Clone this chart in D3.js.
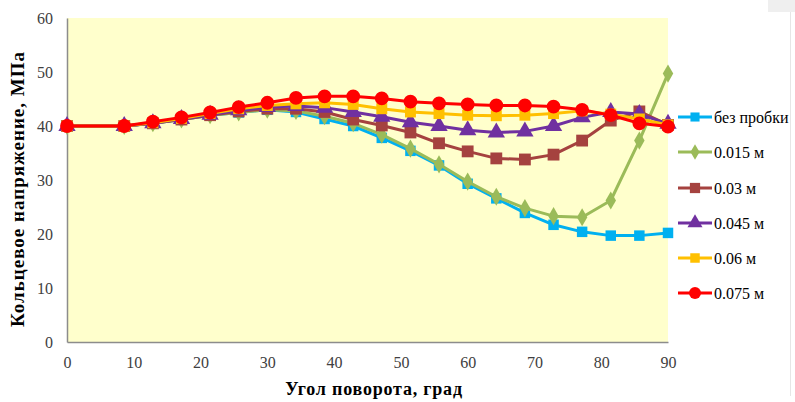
<!DOCTYPE html>
<html>
<head>
<meta charset="utf-8">
<script src="https://cdn.jsdelivr.net/npm/d3@7"></script>
<style>
  html, body { margin: 0; padding: 0; background: #ffffff; }
  svg { display: block; }
</style>
</head>
<body>
<svg id="chart" width="795" height="402"></svg>
<script>
// Rotation angle, degrees
const angles = [0, 8.57, 12.86, 17.14, 21.43, 25.71, 30, 34.29, 38.57, 42.86, 47.14,
                51.43, 55.71, 60, 64.29, 68.57, 72.86, 77.14, 81.43, 85.71, 90];

// Hoop stress, MPa, per plug length
const noPlug  = [40, 40, 40.5, 41.2, 42.0, 42.5, 43.0, 42.6, 41.3, 40.0, 37.8, 35.4, 32.7, 29.3, 26.6, 23.9, 21.7, 20.4, 19.7, 19.7, 20.2];
const plug015 = [40, 40, 40.5, 41.2, 42.0, 42.5, 43.0, 42.8, 41.8, 40.5, 38.4, 35.8, 32.9, 29.7, 26.9, 24.8, 23.3, 23.1, 26.2, 37.3, 49.7];
const plug03  = [40, 40, 40.5, 41.2, 42.0, 42.7, 43.2, 43.2, 42.6, 41.2, 40.1, 38.8, 36.8, 35.3, 34.0, 33.8, 34.7, 37.3, 41.0, 42.7, 40.2];
const plug045 = [40, 40, 40.5, 41.3, 42.1, 42.9, 43.5, 43.7, 43.4, 42.6, 41.7, 40.7, 40.0, 39.2, 38.8, 39.0, 40.0, 41.6, 42.6, 42.2, 40.4];
const plug06  = [40, 40, 40.6, 41.4, 42.3, 43.2, 43.8, 44.1, 44.3, 44.0, 43.2, 42.6, 42.3, 42.0, 41.9, 42.0, 42.3, 42.8, 42.2, 41.3, 40.2];
const plug075 = [40, 40, 40.8, 41.6, 42.5, 43.5, 44.3, 45.2, 45.5, 45.5, 45.1, 44.5, 44.2, 44.0, 43.8, 43.8, 43.6, 43.0, 42.0, 40.5, 39.9];

const seriesNames = ["без пробки", "0.015 м", "0.03 м", "0.045 м", "0.06 м", "0.075 м"];
const seriesValues = [noPlug, plug015, plug03, plug045, plug06, plug075];
const seriesColors = ["#00B0F0", "#9BBB59", "#A5423F", "#7030A0", "#FFC000", "#FF0000"];
const seriesMarkers = ["square", "diamond", "square", "triangle", "square", "circle"];
const markerSizes = [110, 95, 140, 130, 120, 150];

const xTicks = [0, 10, 20, 30, 40, 50, 60, 70, 80, 90];
const yTicks = [0, 10, 20, 30, 40, 50, 60];

const svg = d3.select("#chart");
const plot = { left: 67, right: 668, top: 18, bottom: 342 };

const x = d3.scaleLinear().domain([0, 90]).range([plot.left, plot.right]);
const y = d3.scaleLinear().domain([0, 60]).range([plot.bottom, plot.top]);

const fontFamily = '"Liberation Serif", "Times New Roman", serif';

// small grey tab and frame edge at the right
svg.append("rect").attr("x", 768).attr("y", 0).attr("width", 27).attr("height", 12).attr("fill", "#efefef");
svg.append("line").attr("x1", 790.5).attr("x2", 790.5).attr("y1", 12).attr("y2", 396)
  .attr("stroke", "#e6e6e6").attr("stroke-width", 1);

// plot area
svg.append("rect")
  .attr("x", plot.left).attr("y", plot.top)
  .attr("width", plot.right - plot.left).attr("height", plot.bottom - plot.top)
  .attr("fill", "#FFFFCC");

// axes
const xAxis = svg.append("g")
  .attr("transform", `translate(0,${plot.bottom})`)
  .call(d3.axisBottom(x).tickValues(xTicks).tickSize(0).tickPadding(15));
const yAxis = svg.append("g")
  .attr("transform", `translate(${plot.left},0)`)
  .call(d3.axisLeft(y).tickValues(yTicks).tickSize(0).tickPadding(14));

[xAxis, yAxis].forEach(a => {
  a.attr("font-family", null).attr("font-size", null);
  a.select(".domain").attr("stroke", "#8c8c8c").attr("stroke-width", 1.5);
  a.selectAll("text")
    .style("font-family", fontFamily).style("font-size", "16px")
    .attr("fill", "#404040");
});

// axis titles
svg.append("text")
  .attr("x", 374).attr("y", 395)
  .attr("text-anchor", "middle")
  .style("font-family", fontFamily).style("font-size", "18px").style("font-weight", "bold")
  .style("letter-spacing", "0.8px")
  .attr("fill", "#000")
  .text("Угол поворота, град");

svg.append("text")
  .attr("transform", "translate(24,189) rotate(-90)")
  .attr("text-anchor", "middle")
  .style("font-family", fontFamily).style("font-size", "19px").style("font-weight", "bold")
  .style("letter-spacing", "1px")
  .attr("fill", "#000")
  .text("Кольцевое напряжение, МПа");

const symbolType = {
  square: d3.symbolSquare,
  diamond: d3.symbolDiamond,
  triangle: d3.symbolTriangle,
  circle: d3.symbolCircle
};

const line = d3.line().x(d => x(d[0])).y(d => y(d[1]));

seriesValues.forEach((vals, i) => {
  const pts = angles.map((a, k) => [a, vals[k]]);
  const g = svg.append("g");
  g.append("path")
    .datum(pts)
    .attr("d", line)
    .attr("fill", "none")
    .attr("stroke", seriesColors[i])
    .attr("stroke-width", 3)
    .attr("stroke-linejoin", "round");
  g.selectAll("path.pt")
    .data(pts)
    .enter().append("path")
    .attr("class", "pt")
    .attr("transform", d => `translate(${x(d[0])},${y(d[1])})`)
    .attr("d", d3.symbol().type(symbolType[seriesMarkers[i]]).size(markerSizes[i]))
    .attr("fill", seriesColors[i]);
});

// legend
const legendY = [117, 152, 188, 223, 258, 293];
seriesNames.forEach((name, i) => {
  const g = svg.append("g").attr("transform", `translate(0,${legendY[i]})`);
  g.append("line").attr("x1", 678).attr("x2", 712).attr("y1", 0).attr("y2", 0)
    .attr("stroke", seriesColors[i]).attr("stroke-width", 3);
  g.append("path")
    .attr("transform", "translate(695,0)")
    .attr("d", d3.symbol().type(symbolType[seriesMarkers[i]]).size(markerSizes[i] * 0.75))
    .attr("fill", seriesColors[i]);
  g.append("text")
    .attr("x", 714).attr("y", 5.5)
    .style("font-family", fontFamily).style("font-size", "16px")
    .attr("fill", "#000")
    .text(name);
});
</script>
</body>
</html>
